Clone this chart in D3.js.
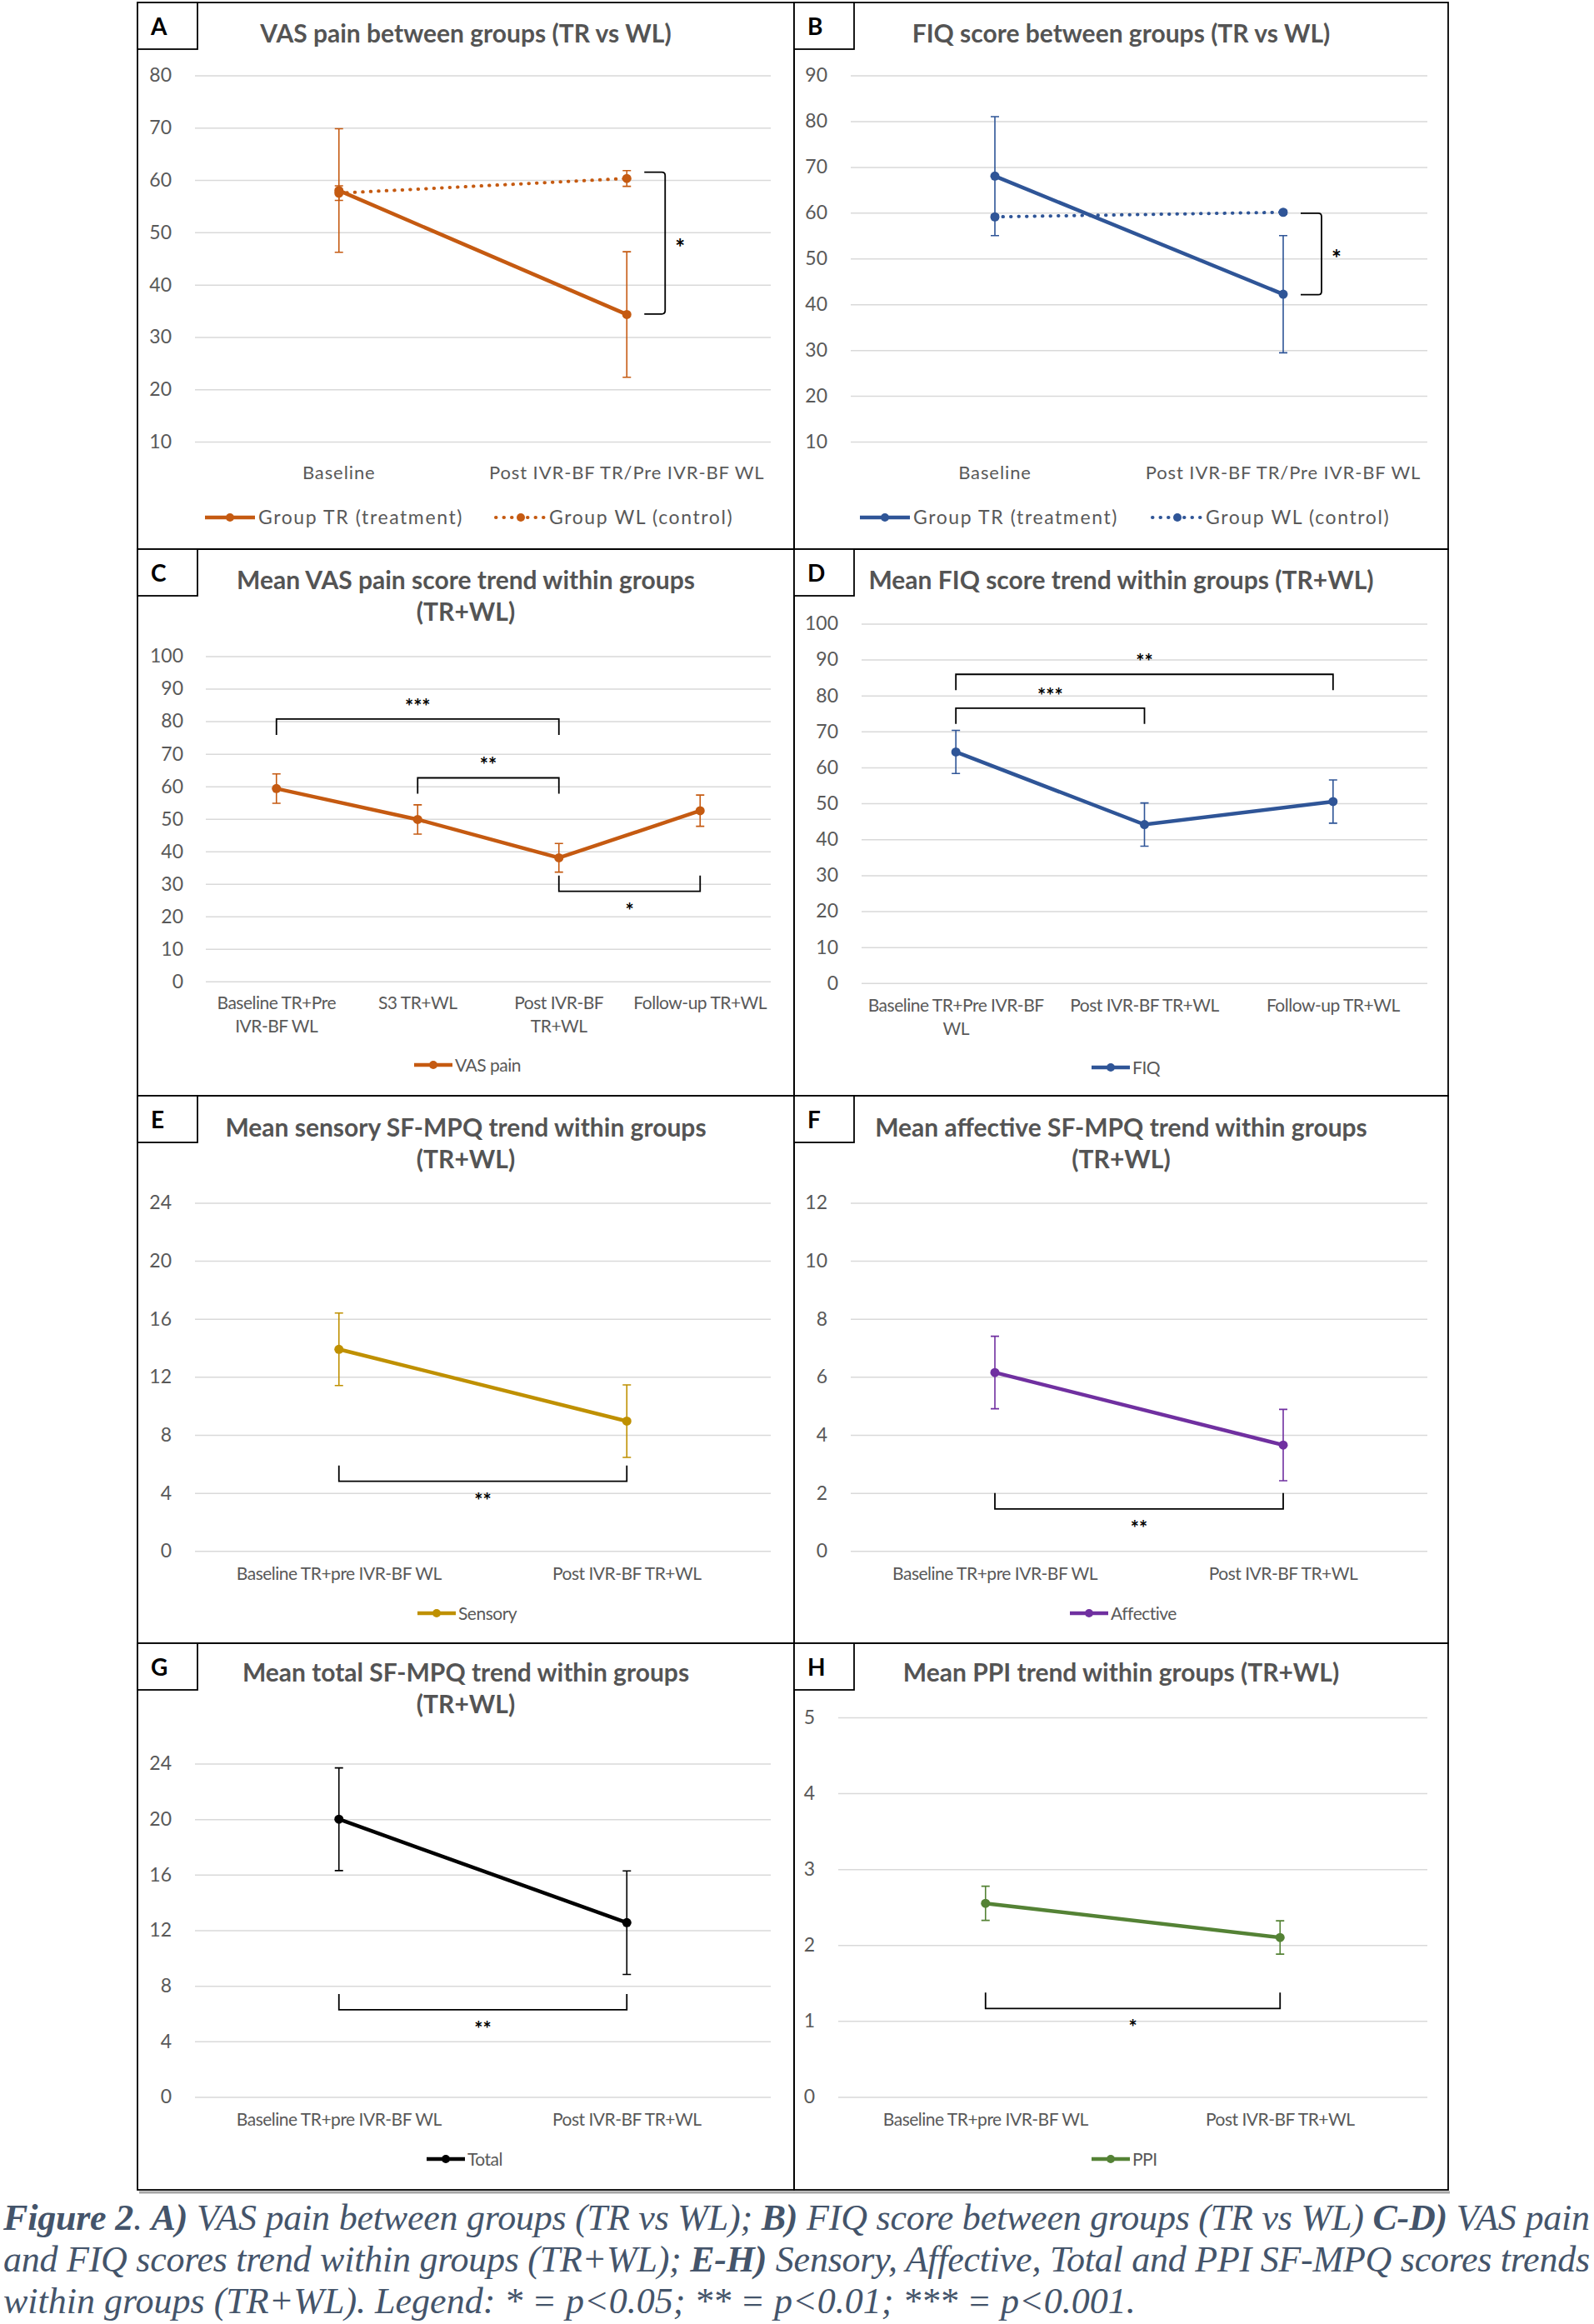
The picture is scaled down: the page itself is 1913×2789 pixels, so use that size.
<!DOCTYPE html>
<html>
<head>
<meta charset="utf-8">
<script src="https://cdn.jsdelivr.net/npm/d3@7"></script>
<style>
  body { margin: 0; background: #fff; }
  text { font-family: Lato, "Open Sans", sans-serif; }
</style>
</head>
<body>
<div id="fig"></div>
<script>
// ---------------- data ----------------
var betweenCats = [["Baseline"], ["Post IVR-BF TR/Pre IVR-BF WL"]];
var vasTR = [58.0, 34.3],  vasTRErr = [11.8, 12.0];
var vasWL = [57.5, 60.3],  vasWLErr = [1.4, 1.5];
var vasBetweenSig = [{ top: 61.5, bottom: 34.4, label: "*" }];

var fiqTR = [68.0, 42.2],  fiqTRErr = [13.0, 12.8];
var fiqWL = [59.1, 60.1],  fiqWLErr = [0.4, 0.4];
var fiqBetweenSig = [{ top: 59.9, bottom: 42.1, label: "*" }];

var vasTrendCats = [["Baseline TR+Pre", "IVR-BF WL"], ["S3 TR+WL"], ["Post IVR-BF", "TR+WL"], ["Follow-up TR+WL"]];
var vasTrend = [59.3, 49.8, 38.0, 52.5], vasTrendErr = [4.5, 4.5, 4.4, 4.8];
var vasTrendSig = [
  { from: 0, to: 2, level: 80.7, dir: "up", label: "***" },
  { from: 1, to: 2, level: 62.6, dir: "up", label: "**" },
  { from: 2, to: 3, level: 27.7, dir: "down", label: "*" }
];

var fiqTrendCats = [["Baseline TR+Pre IVR-BF", "WL"], ["Post IVR-BF TR+WL"], ["Follow-up TR+WL"]];
var fiqTrend = [64.3, 44.1, 50.5], fiqTrendErr = [6.0, 6.0, 6.0];
var fiqTrendSig = [
  { from: 0, to: 2, level: 85.9, dir: "up", label: "**" },
  { from: 0, to: 1, level: 76.5, dir: "up", label: "***" }
];

var sfCats = [["Baseline TR+pre IVR-BF WL"], ["Post IVR-BF TR+WL"]];
var sensory = [13.9, 8.95],  sensoryErr = [2.5, 2.5];
var affective = [6.15, 3.65], affectiveErr = [1.25, 1.23];
var total = [20.0, 12.55],   totalErr = [3.7, 3.73];
var ppi = [2.55, 2.1],       ppiErr = [0.225, 0.22];
var sensorySig = [{ from: 0, to: 1, level: 4.8, dir: "down", label: "**" }];
var affectiveSig = [{ from: 0, to: 1, level: 1.45, dir: "down", label: "**" }];
var totalSig = [{ from: 0, to: 1, level: 6.27, dir: "down", label: "**" }];
var ppiSig = [{ from: 0, to: 1, level: 1.165, dir: "down", label: "*" }];

// ---------------- setup ----------------
var W = 1913, H = 2789;
var svg = d3.select("#fig").append("svg")
    .attr("width", W)
    .attr("height", H);

var orange = "#c55a11", blue = "#2f5597", gold = "#bf9000",
    purple = "#7030a0", green = "#548235", grey = "#595959";

var colLeft = [165, 953], colRight = [953, 1738];
var rowTop = [3, 659, 1315, 1972, 2628];

var panels = [
  { letter: "A", col: 0, row: 0, title: ["VAS pain between groups (TR vs WL)"], titleY: 51,
    plot: [234, 925, 90.5, 530], domain: [10, 80], step: 10, labelX: 206,
    cats: betweenCats, catY: 575, wide: true, legendY: 621,
    series: [
      { v: vasTR, e: vasTRErr, c: orange, name: "Group TR (treatment)", lx: 246 },
      { v: vasWL, e: vasWLErr, c: orange, dotted: true, name: "Group WL (control)", lx: 595 }
    ], between: vasBetweenSig },
  { letter: "B", col: 1, row: 0, title: ["FIQ score between groups (TR vs WL)"], titleY: 51,
    plot: [1021, 1713, 90.5, 530], domain: [10, 90], step: 10, labelX: 993,
    cats: betweenCats, catY: 575, wide: true, legendY: 621,
    series: [
      { v: fiqTR, e: fiqTRErr, c: blue, name: "Group TR (treatment)", lx: 1032 },
      { v: fiqWL, e: fiqWLErr, c: blue, dotted: true, name: "Group WL (control)", lx: 1383 }
    ], between: fiqBetweenSig },
  { letter: "C", col: 0, row: 1, title: ["Mean VAS pain score trend within groups", "(TR+WL)"], titleY: 707,
    plot: [247, 925, 787.6, 1177.7], domain: [0, 100], step: 10, labelX: 220,
    cats: vasTrendCats, catY: 1211, legendY: 1278,
    series: [{ v: vasTrend, e: vasTrendErr, c: orange, name: "VAS pain", lx: 497 }], sig: vasTrendSig },
  { letter: "D", col: 1, row: 1, title: ["Mean FIQ score trend within groups (TR+WL)"], titleY: 707,
    plot: [1034, 1713, 748.4, 1179.8], domain: [0, 100], step: 10, labelX: 1006,
    cats: fiqTrendCats, catY: 1214, legendY: 1281,
    series: [{ v: fiqTrend, e: fiqTrendErr, c: blue, name: "FIQ", lx: 1310 }], sig: fiqTrendSig },
  { letter: "E", col: 0, row: 2, title: ["Mean sensory SF-MPQ trend within groups", "(TR+WL)"], titleY: 1364,
    plot: [234, 925, 1443.4, 1861.3], domain: [0, 24], step: 4, labelX: 206,
    cats: sfCats, catY: 1896, legendY: 1936,
    series: [{ v: sensory, e: sensoryErr, c: gold, name: "Sensory", lx: 501 }], sig: sensorySig },
  { letter: "F", col: 1, row: 2, title: ["Mean affective SF-MPQ trend within groups", "(TR+WL)"], titleY: 1364,
    plot: [1021, 1713, 1443.4, 1861.3], domain: [0, 12], step: 2, labelX: 993,
    cats: sfCats, catY: 1896, legendY: 1936,
    series: [{ v: affective, e: affectiveErr, c: purple, name: "Affective", lx: 1284 }], sig: affectiveSig },
  { letter: "G", col: 0, row: 3, title: ["Mean total SF-MPQ trend within groups", "(TR+WL)"], titleY: 2018,
    plot: [234, 925, 2116.6, 2516.4], domain: [0, 24], step: 4, labelX: 206,
    cats: sfCats, catY: 2551, legendY: 2591,
    series: [{ v: total, e: totalErr, c: "#000000", name: "Total", lx: 512 }], sig: totalSig },
  { letter: "H", col: 1, row: 3, title: ["Mean PPI trend within groups (TR+WL)"], titleY: 2018,
    plot: [1006, 1713, 2061, 2516.4], domain: [0, 5], step: 1, labelX: 978,
    cats: sfCats, catY: 2551, legendY: 2591,
    series: [{ v: ppi, e: ppiErr, c: green, name: "PPI", lx: 1310 }], sig: ppiSig }
];

// shadow under the figure frame
svg.append("line")
    .attr("x1", colLeft[0] + 2).attr("x2", colRight[1] + 2)
    .attr("y1", rowTop[4] + 3).attr("y2", rowTop[4] + 3)
    .attr("stroke", "#a6a6a6").attr("stroke-width", 3);

panels.forEach(drawPanel);

function drawPanel(p) {
  var x0 = colLeft[p.col], x1 = colRight[p.col],
      y0 = rowTop[p.row], y1 = rowTop[p.row + 1];
  var g = svg.append("g");

  // frame + letter box
  g.append("rect")
      .attr("x", x0).attr("y", y0).attr("width", x1 - x0).attr("height", y1 - y0)
      .attr("fill", "none").attr("stroke", "#000").attr("stroke-width", 1.8);
  g.append("rect")
      .attr("x", x0).attr("y", y0).attr("width", 72).attr("height", 56)
      .attr("fill", "#fff").attr("stroke", "#000").attr("stroke-width", 1.8);
  g.append("text")
      .attr("x", x0 + 16).attr("y", y0 + 39)
      .text(p.letter)
      .style("font-size", "28px").style("font-weight", "bold").style("fill", "#000");

  // title
  var cx = (x0 + x1) / 2;
  p.title.forEach(function(t, i) {
    g.append("text")
        .attr("x", cx).attr("y", p.titleY + i * 38)
        .attr("text-anchor", "middle")
        .text(t)
        .style("font-size", "30px").style("font-weight", "bold").style("fill", "#545454");
  });

  // scales
  var left = p.plot[0], right = p.plot[1], top = p.plot[2], bottom = p.plot[3];
  var x = d3.scalePoint()
      .domain(d3.range(p.cats.length))
      .range([left, right])
      .padding(0.5);
  var y = d3.scaleLinear()
      .domain(p.domain)
      .range([bottom, top]);

  // y axis + gridlines
  var ticks = d3.range(p.domain[0], p.domain[1] + p.step / 2, p.step);
  var ax = g.append("g")
      .attr("transform", "translate(" + left + ",0)")
      .call(d3.axisLeft(y)
        .tickValues(ticks)
        .tickSizeInner(-(right - left))
        .tickSizeOuter(0)
        .tickPadding(left - p.labelX)
        .tickFormat(d3.format("d")));
  ax.select(".domain").remove();
  ax.selectAll(".tick line").attr("stroke", "#d9d9d9").attr("stroke-width", 1.5);
  ax.selectAll(".tick text")
      .style("font-size", "23px").style("fill", grey)
      .style("font-family", "Lato, sans-serif");

  // category labels
  p.cats.forEach(function(lines, i) {
    var t = g.append("text")
        .attr("x", x(i)).attr("y", p.catY)
        .attr("text-anchor", "middle")
        .style("font-size", p.wide ? "22px" : "21px")
        .style("letter-spacing", p.wide ? "0.9px" : "-0.5px")
        .style("fill", grey);
    lines.forEach(function(l, j) {
      t.append("tspan").attr("x", x(i)).attr("dy", j === 0 ? 0 : 28).text(l);
    });
  });

  // series
  p.series.forEach(function(s) {
    var line = d3.line()
        .x(function(d, i) { return x(i); })
        .y(function(d) { return y(d); });

    // error bars
    s.v.forEach(function(v, i) {
      var lo = y(v - s.e[i]), hi = y(v + s.e[i]), xi = x(i);
      g.append("path")
          .attr("d", "M" + xi + "," + lo + "V" + hi +
                     "M" + (xi - 5) + "," + lo + "H" + (xi + 5) +
                     "M" + (xi - 5) + "," + hi + "H" + (xi + 5))
          .attr("fill", "none").attr("stroke", s.c).attr("stroke-width", 1.6);
    });

    g.append("path")
        .datum(s.v)
        .attr("d", line)
        .attr("fill", "none")
        .attr("stroke", s.c)
        .attr("stroke-width", s.dotted ? 4 : 4.5)
        .attr("stroke-linecap", s.dotted ? "round" : "butt")
        .attr("stroke-dasharray", s.dotted ? "0.5 9" : null);

    g.selectAll(null)
        .data(s.v)
        .enter()
        .append("circle")
          .attr("cx", function(d, i) { return x(i); })
          .attr("cy", function(d) { return y(d); })
          .attr("r", 5.5)
          .attr("fill", s.c);

    // legend
    var len = p.wide ? 60 : 46;
    g.append("line")
        .attr("x1", s.lx).attr("x2", s.lx + len)
        .attr("y1", p.legendY).attr("y2", p.legendY)
        .attr("stroke", s.c)
        .attr("stroke-width", s.dotted ? 4 : 4.5)
        .attr("stroke-linecap", s.dotted ? "round" : "butt")
        .attr("stroke-dasharray", s.dotted ? "0.5 9" : null);
    g.append("circle")
        .attr("cx", s.lx + len / 2).attr("cy", p.legendY).attr("r", 5)
        .attr("fill", s.c);
    g.append("text")
        .attr("x", s.lx + len + (p.wide ? 4 : 3)).attr("y", p.legendY + 8)
        .text(s.name)
        .style("font-size", p.wide ? "23px" : "21px")
        .style("letter-spacing", p.wide ? "1.6px" : "-0.5px")
        .style("fill", grey);
  });

  // significance between groups (vertical bracket)
  (p.between || []).forEach(function(b) {
    var px = x(p.cats.length - 1);
    var bx0 = px + 21, bx1 = px + 46;
    var yt = y(b.top), yb = y(b.bottom);
    g.append("path")
        .attr("d", "M" + bx0 + "," + yt + "H" + (bx1 - 4) + "Q" + bx1 + "," + yt + " " + bx1 + "," + (yt + 4) +
                   "V" + (yb - 4) + "Q" + bx1 + "," + yb + " " + (bx1 - 4) + "," + yb + "H" + bx0)
        .attr("fill", "none").attr("stroke", "#000").attr("stroke-width", 1.8);
    g.append("text")
        .attr("x", bx1 + 18).attr("y", (yt + yb) / 2 + 15)
        .attr("text-anchor", "middle")
        .text(b.label)
        .style("font-size", "28px").style("font-weight", "bold").style("fill", "#000");
  });

  // significance within groups (horizontal bracket)
  (p.sig || []).forEach(function(b) {
    var xa = x(b.from), xb = x(b.to), yl = y(b.level);
    var leg = b.dir === "up" ? 19 : -19;
    g.append("path")
        .attr("d", "M" + xa + "," + (yl + leg) + "V" + yl + "H" + xb + "V" + (yl + leg))
        .attr("fill", "none").attr("stroke", "#000").attr("stroke-width", 1.8);
    var ly = b.dir === "up" ? yl - 19 : yl + 19;
    g.append("text")
        .attr("x", (xa + xb) / 2).attr("y", ly + 13)
        .attr("text-anchor", "middle")
        .text(b.label)
        .style("font-size", "24px").style("font-weight", "bold").style("fill", "#000");
  });
}

// ---------------- caption ----------------
var caption = [
  [["Figure 2", true], [". ", false], ["A)", true], [" VAS pain between groups (TR vs WL); ", false],
   ["B)", true], [" FIQ score between groups (TR vs WL) ", false], ["C-D)", true], [" VAS pain", false]],
  [["and FIQ scores trend within groups (TR+WL); ", false], ["E-H)", true],
   [" Sensory, Affective, Total and PPI SF-MPQ scores trends", false]],
  [["within groups (TR+WL). Legend: * = p<0.05; ** = p<0.01; *** = p<0.001.", false]]
];
caption.forEach(function(segs, i) {
  var t = svg.append("text")
      .attr("x", 4).attr("y", 2676 + i * 50)
      .style("font-family", "'Liberation Serif', serif")
      .style("font-style", "italic")
      .style("font-size", "44px")
      .style("fill", "#44546a");
  if (i < 2) t.attr("textLength", 1904).attr("lengthAdjust", "spacing");
  segs.forEach(function(s) {
    t.append("tspan").text(s[0]).style("font-weight", s[1] ? "bold" : "normal")
        .style("font-family", "'Liberation Serif', serif");
  });
});
</script>
</body>
</html>
